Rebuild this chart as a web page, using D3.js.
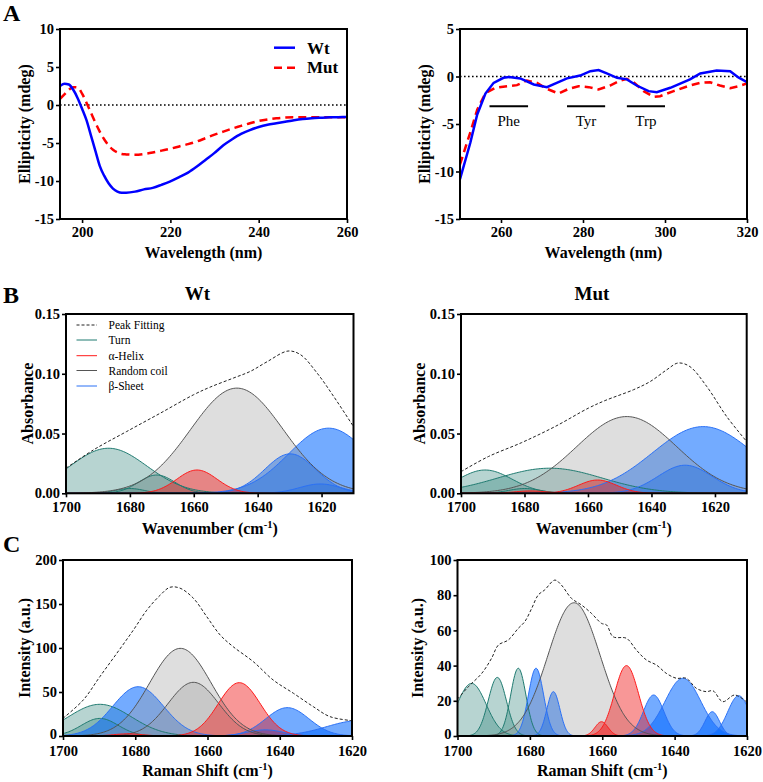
<!DOCTYPE html>
<html>
<head>
<meta charset="utf-8">
<script src="https://cdn.jsdelivr.net/npm/d3@7"></script>
<style>
  body { margin: 0; background: #fff; }
  svg { display: block; }
  text { font-family: "Liberation Serif", "Times New Roman", serif; }
</style>
</head>
<body>
<div id="chart"></div>
<script>
// ---------- data ----------

// A, far-UV CD (nm, mdeg)
var farWave = [195,196,197,198,199,200,201,202,203,204,205,206,207,208,209,210,212,214,216,218,220,222,224,226,228,230,232,234,236,238,240,242,244,246,248,250,252,254,256,258,260];
var farWt   = [2.5,2.8,2.7,2.0,0.9,-0.5,-2.0,-4.0,-6.0,-8.0,-9.3,-10.3,-11.0,-11.4,-11.55,-11.55,-11.4,-11.1,-10.9,-10.5,-10.05,-9.5,-8.9,-8.1,-7.2,-6.3,-5.3,-4.5,-3.8,-3.3,-2.9,-2.6,-2.4,-2.2,-2.0,-1.85,-1.75,-1.68,-1.62,-1.6,-1.58];
var farMut  = [0.8,1.4,2.0,2.35,2.3,1.5,0.3,-1.0,-2.3,-3.5,-4.5,-5.3,-5.9,-6.25,-6.45,-6.5,-6.55,-6.45,-6.25,-6.0,-5.75,-5.45,-5.15,-4.8,-4.35,-3.9,-3.5,-3.1,-2.75,-2.4,-2.1,-1.9,-1.75,-1.65,-1.6,-1.6,-1.6,-1.6,-1.6,-1.6,-1.6];

// A, near-UV CD
var nearWt = [[250,-10.8],[252.5,-7.0],[254.2,-4.0],[256.2,-1.8],[258.2,-0.67],[260.6,-0.14],[262,-0.05],[264.7,-0.2],[268,-0.84],[271.2,-1.12],[273.6,-0.67],[276.1,-0.2],[279.3,0.1],[281.8,0.56],[283.8,0.67],[285.8,0.32],[288.3,-0.14],[290.7,-0.3],[293.1,-0.95],[296,-1.54],[298,-1.65],[301.3,-1.19],[306.1,-0.3],[308.6,0.32],[312.6,0.63],[315.9,0.56],[317.9,-0.1],[320,-0.6]];
var nearMut = [[250,-9.26],[252.5,-5.9],[254.2,-3.5],[256.2,-1.75],[258.6,-1.19],[261.5,-1.02],[263.9,-0.91],[266.3,-0.42],[268.8,-0.67],[271.2,-1.3],[274,-1.79],[276.5,-1.3],[278.9,-1.02],[281.4,-1.12],[283.8,-1.37],[286.6,-0.95],[289.1,-0.42],[290.7,-0.25],[292.3,-0.6],[294.8,-1.54],[297.2,-2.14],[298.8,-2.07],[302.1,-1.54],[306.1,-0.95],[308.6,-0.67],[311,-0.6],[313.4,-0.95],[315.9,-1.23],[317.9,-1.02],[320,-0.74]];
var aromaticBands = [["Phe",257.2,266.6],["Tyr",276.1,285.4],["Trp",290.7,300]];
var aromaticLevel = -3.13;

// B, FTIR amide I fitted bands: [type, centre cm-1, height, sigma]
var ftirWtBands = [
  ["turn",1686.7,0.0377,12],["turn",1680,0.004,4.5],["turn",1671.6,0.0153,5.7],
  ["sheet",1629.8,0.033,8],["sheet",1620.4,0.0078,6.5],["sheet",1617.8,0.0545,12.5],
  ["coil",1646.5,0.088,14.5],
  ["helix",1659,0.0195,6.3]
];
var ftirWtFit = [[1700,0.021],[1691.4,0.0363],[1681,0.0517],[1670.5,0.067],[1660.1,0.0824],[1654.9,0.0888],[1647.6,0.0964],[1642.3,0.102],[1637.1,0.110],[1630.5,0.119],[1626.6,0.116],[1621.4,0.1006],[1616.2,0.081],[1610,0.0558]];
var ftirMutBands = [
  ["turn",1692.4,0.0195,8.5],["turn",1680,0.004,5],["turn",1672,0.021,16.5],
  ["sheet",1629.4,0.0235,8.5],["sheet",1623.7,0.0558,16],
  ["coil",1647.8,0.0642,15.8],
  ["helix",1678,0.002,5],["helix",1657,0.0111,6]
];
var ftirMutFit = [[1700,0.0181],[1691.4,0.0307],[1680.9,0.0424],[1670.4,0.0558],[1659.9,0.0712],[1654.6,0.0776],[1645.7,0.0866],[1640.4,0.0935],[1635.2,0.1033],[1631.6,0.109],[1627.9,0.106],[1622.6,0.0894],[1616.3,0.0642],[1610,0.0433]];

// C, Raman amide I fitted bands
var ramanWtBands = [
  ["turn",1689.8,36,8.7],["turn",1689.8,20,5.1],
  ["sheet",1679.2,56,7],["sheet",1644,7,5],["sheet",1637.9,32.2,6],["sheet",1618,17.5,9],
  ["coil",1667.5,99.6,8.5],["coil",1663.9,61,7],
  ["helix",1682,2.5,4],["helix",1651.2,60.6,5.8]
];
var ramanWtFit = [[1700,20.1],[1694.4,40.9],[1689.8,67.4],[1685.1,94],[1680.5,120.5],[1676.8,143],[1673.1,160],[1670.4,169],[1667.6,168],[1663.9,156.5],[1660.2,135.6],[1656.5,114.8],[1652.9,101.5],[1647.3,84.4],[1641.8,63.6],[1636.2,48.5],[1630.7,33.3],[1626.1,22],[1620,17.4]];
var ramanMutBands = [
  ["turn",1696.1,29.9,4],["turn",1689,33.3,2.5],["turn",1683.2,38.5,2.1],
  ["sheet",1678.3,38.5,2.1],["sheet",1673.5,25.2,1.8],["sheet",1645.8,23.3,2.8],["sheet",1637.7,32.8,4.9],["sheet",1629.6,13.8,2],["sheet",1622.3,22.9,3],
  ["coil",1667.8,75.7,7.2],
  ["helix",1660.2,8.1,1.8],["helix",1653.3,40,3.3]
];
var ramanMutFit = [[1700,21],[1697,28],[1693.3,35.6],[1690.6,44.1],[1688.7,51.7],[1686,54.5],[1683.2,61.2],[1681.4,65],[1679.5,72.5],[1677.7,80.1],[1675.9,83],[1673.1,88.6],[1671.3,85.8],[1668.5,78.2],[1665.7,74.4],[1663,69.7],[1660.2,64],[1658.8,63.1],[1657,56.4],[1653.3,55.5],[1650.6,48.9],[1647.8,43.2],[1645,40.3],[1642.3,35.6],[1639.5,32.8],[1636.8,32.8],[1634,27.1],[1631.3,25.2],[1629.4,25.7],[1626.7,19.5],[1623.4,23.3],[1620.2,19.5]];

var legendItems = [["fit","Peak Fitting"],["turn","Turn"],["helix","α-Helix"],["coil","Random coil"],["sheet","β-Sheet"]];

// ---------- styles ----------
var SERIF = "'Liberation Serif', 'Times New Roman', serif";
var bandStyle = {
  turn:  { stroke: "#1f7a70", fill: "#1f7a70", op: 0.32 },
  helix: { stroke: "#ff1a1a", fill: "#f01818", op: 0.45 },
  coil:  { stroke: "#555555", fill: "#9a9a9a", op: 0.33 },
  sheet: { stroke: "#2a70f5", fill: "#0066ff", op: 0.55 }
};

var svg = d3.select("#chart").append("svg").attr("width", 763).attr("height", 782)
  .attr("font-family", SERIF);
var clipCount = 0;

// xPad: gap under x ticks, zeroLift: nudge the y "0" label up where it meets the x labels
function panel(box, xDom, yDom, xTicks, yTicks, yFmt, xPad, zeroLift) {
  var x = d3.scaleLinear().domain(xDom).range([box.x0, box.x1]);
  var y = d3.scaleLinear().domain(yDom).range([box.y1, box.y0]);
  var id = "clip" + (clipCount++);
  svg.append("clipPath").attr("id", id).append("rect")
    .attr("x", box.x0).attr("y", box.y0).attr("width", box.x1 - box.x0).attr("height", box.y1 - box.y0);
  var plot = svg.append("g").attr("clip-path", "url(#" + id + ")");
  var ax = svg.append("g");
  var xa = ax.append("g").attr("transform", "translate(0," + box.y1 + ")")
    .call(d3.axisBottom(x).tickValues(xTicks).tickSize(4).tickSizeOuter(0).tickPadding(xPad || 4).tickFormat(function(d){ return String(d); }));
  var ya = ax.append("g").attr("transform", "translate(" + box.x0 + ",0)")
    .call(d3.axisLeft(y).tickValues(yTicks).tickSize(4).tickSizeOuter(0).tickPadding(2).tickFormat(yFmt || function(d){ return String(d); }));
  [xa, ya].forEach(function(a){
    a.attr("font-family", SERIF).attr("font-size", 14.5).attr("font-weight", "bold");
    a.select(".domain").remove();
    a.selectAll(".tick line").attr("stroke", "#000").attr("stroke-width", 1.6);
    a.selectAll(".tick text").attr("fill", "#000");
  });
  if (zeroLift) {
    ya.selectAll(".tick text").filter(function(d){ return d === 0; }).attr("y", -zeroLift);
  }
  ax.append("rect").attr("x", box.x0).attr("y", box.y0).attr("width", box.x1 - box.x0).attr("height", box.y1 - box.y0)
    .attr("fill", "none").attr("stroke", "#000").attr("stroke-width", 2);
  return { x: x, y: y, plot: plot, box: box };
}

function xTitle(p, parts, dy) {
  var t = svg.append("text").attr("x", (p.box.x0 + p.box.x1) / 2).attr("y", p.box.y1 + dy)
    .attr("text-anchor", "middle").attr("font-size", 16).attr("font-weight", "bold");
  t.append("tspan").text(parts[0]);
  if (parts.length > 1) {
    t.append("tspan").attr("dy", -6).attr("font-size", 10.5).text(parts[1]);
    t.append("tspan").attr("dy", 6).text(parts[2]);
  }
}
function yTitle(p, label, xb) {
  var cy = (p.box.y0 + p.box.y1) / 2;
  svg.append("text").attr("transform", "translate(" + xb + "," + cy + ") rotate(-90)")
    .attr("text-anchor", "middle").attr("font-size", 16).attr("font-weight", "bold").text(label);
}
function zeroLine(p) {
  p.plot.append("line").attr("x1", p.box.x0).attr("x2", p.box.x1).attr("y1", p.y(0)).attr("y2", p.y(0))
    .attr("stroke", "#000").attr("stroke-width", 1.6).attr("stroke-dasharray", "1.6,2.4");
}
function panelLetter(t, x, y) {
  svg.append("text").attr("x", x).attr("y", y).attr("font-size", 24).attr("font-weight", "bold").text(t);
}

function drawBands(p, bands, fit, step) {
  var dom = p.x.domain();
  var lo = Math.min(dom[0], dom[1]), hi = Math.max(dom[0], dom[1]);
  var grid = d3.range(lo, hi + step / 2, step);
  var curves = bands.map(function(b) {
    return grid.map(function(w){ return [w, b[2] * Math.exp(-Math.pow(w - b[1], 2) / (2 * b[3] * b[3]))]; });
  });
  var area = d3.area().x(function(d){ return p.x(d[0]); }).y0(p.y(0)).y1(function(d){ return p.y(d[1]); });
  var line = d3.line().x(function(d){ return p.x(d[0]); }).y(function(d){ return p.y(d[1]); });
  p.plot.selectAll(null).data(bands).enter().append("path")
    .attr("d", function(b, i){ return area(curves[i]); })
    .attr("fill", function(b){ return bandStyle[b[0]].fill; })
    .attr("fill-opacity", function(b){ return bandStyle[b[0]].op; });
  p.plot.selectAll(null).data(bands).enter().append("path")
    .attr("d", function(b, i){ return line(curves[i]); })
    .attr("fill", "none").attr("stroke-width", 1)
    .attr("stroke", function(b){ return bandStyle[b[0]].stroke; });
  p.plot.append("path").datum(fit)
    .attr("d", d3.line().x(function(d){ return p.x(d[0]); }).y(function(d){ return p.y(d[1]); }).curve(d3.curveCatmullRom))
    .attr("fill", "none").attr("stroke", "#222").attr("stroke-width", 1).attr("stroke-dasharray", "3,2");
}

// ---------- A left: far UV ----------
panelLetter("A", 3, 21);
var a1 = panel({x0: 60, x1: 347, y0: 29, y1: 219}, [195, 260], [-15, 10], [200, 220, 240, 260], [-15, -10, -5, 0, 5, 10]);
zeroLine(a1);
var farLine = d3.line().x(function(d){ return a1.x(d[0]); }).y(function(d){ return a1.y(d[1]); }).curve(d3.curveMonotoneX);
a1.plot.append("path").datum(d3.zip(farWave, farMut)).attr("d", farLine)
  .attr("fill", "none").attr("stroke", "#ff0000").attr("stroke-width", 2.5).attr("stroke-dasharray", "8,5");
a1.plot.append("path").datum(d3.zip(farWave, farWt)).attr("d", farLine)
  .attr("fill", "none").attr("stroke", "#0000ff").attr("stroke-width", 2.5);
svg.append("line").attr("x1", 274).attr("x2", 295).attr("y1", 47.7).attr("y2", 47.7).attr("stroke", "#0000ff").attr("stroke-width", 2.5);
svg.append("line").attr("x1", 274).attr("x2", 295).attr("y1", 67.7).attr("y2", 67.7).attr("stroke", "#ff0000").attr("stroke-width", 2.5).attr("stroke-dasharray", "8,5");
svg.append("text").attr("x", 307).attr("y", 53.5).attr("font-size", 17).attr("font-weight", "bold").text("Wt");
svg.append("text").attr("x", 307).attr("y", 73).attr("font-size", 17).attr("font-weight", "bold").text("Mut");
xTitle(a1, ["Wavelength (nm)"], 39);
yTitle(a1, "Ellipticity (mdeg)", 30);

// ---------- A right: near UV ----------
var a2 = panel({x0: 460, x1: 747, y0: 29, y1: 219}, [250, 320], [-15, 5], [260, 280, 300, 320], [-15, -10, -5, 0, 5]);
zeroLine(a2);
var nearLine = d3.line().x(function(d){ return a2.x(d[0]); }).y(function(d){ return a2.y(d[1]); });
a2.plot.append("path").datum(nearMut).attr("d", nearLine)
  .attr("fill", "none").attr("stroke", "#ff0000").attr("stroke-width", 2.5).attr("stroke-dasharray", "8,5");
a2.plot.append("path").datum(nearWt).attr("d", nearLine)
  .attr("fill", "none").attr("stroke", "#0000ff").attr("stroke-width", 2.5);
aromaticBands.forEach(function(b) {
  a2.plot.append("line").attr("x1", a2.x(b[1])).attr("x2", a2.x(b[2]))
    .attr("y1", a2.y(aromaticLevel)).attr("y2", a2.y(aromaticLevel)).attr("stroke", "#000").attr("stroke-width", 2);
  svg.append("text").attr("x", (a2.x(b[1]) + a2.x(b[2])) / 2).attr("y", a2.y(aromaticLevel) + 20)
    .attr("text-anchor", "middle").attr("font-size", 15).text(b[0]);
});
xTitle(a2, ["Wavelength (nm)"], 39);
yTitle(a2, "Ellipticity (mdeg)", 430);

// ---------- B: FTIR ----------
panelLetter("B", 3, 302.5);
var fmt2 = d3.format(".2f");
var b1 = panel({x0: 66, x1: 353.5, y0: 314, y1: 493.3}, [1700, 1610], [0, 0.15], [1700, 1680, 1660, 1640, 1620], [0, 0.05, 0.10, 0.15], fmt2);
drawBands(b1, ftirWtBands, ftirWtFit, 0.5);
var b2 = panel({x0: 461, x1: 746.7, y0: 314, y1: 493.3}, [1700, 1610], [0, 0.15], [1700, 1680, 1660, 1640, 1620], [0, 0.05, 0.10, 0.15], fmt2);
drawBands(b2, ftirMutBands, ftirMutFit, 0.5);
svg.append("text").attr("x", 197.5).attr("y", 299.5).attr("text-anchor", "middle").attr("font-size", 19).attr("font-weight", "bold").text("Wt");
svg.append("text").attr("x", 592).attr("y", 299.5).attr("text-anchor", "middle").attr("font-size", 19).attr("font-weight", "bold").text("Mut");
xTitle(b1, ["Wavenumber (cm", "-1", ")"], 41);
xTitle(b2, ["Wavenumber (cm", "-1", ")"], 41);
yTitle(b1, "Absorbance", 33);
yTitle(b2, "Absorbance", 425);

// legend
var lg = svg.append("g");
legendItems.forEach(function(it, i) {
  var yy = [325, 340, 355.7, 370.5, 386][i];
  var ln = lg.append("line").attr("x1", 76.5).attr("x2", 97).attr("y1", yy).attr("y2", yy).attr("stroke-width", 1);
  if (it[0] === "fit") ln.attr("stroke", "#222").attr("stroke-dasharray", "3,2");
  else ln.attr("stroke", bandStyle[it[0]].stroke);
  lg.append("text").attr("x", 108.5).attr("y", yy + 4).attr("font-size", 11.5).text(it[1]);
});

// ---------- C: Raman ----------
panelLetter("C", 3, 552);
var c1 = panel({x0: 63, x1: 352, y0: 560, y1: 736}, [1700, 1620], [0, 200], [1700, 1680, 1660, 1640, 1620], [0, 50, 100, 150, 200], null, 5.5, 2);
drawBands(c1, ramanWtBands, ramanWtFit, 0.4);
var c2 = panel({x0: 457.5, x1: 747, y0: 560, y1: 736}, [1700, 1620], [0, 100], [1700, 1680, 1660, 1640, 1620], [0, 20, 40, 60, 80, 100], null, 5.5, 2);
drawBands(c2, ramanMutBands, ramanMutFit, 0.2);
xTitle(c1, ["Raman Shift (cm", "-1", ")"], 40);
xTitle(c2, ["Raman Shift (cm", "-1", ")"], 40);
yTitle(c1, "Intensity (a.u.)", 30);
yTitle(c2, "Intensity (a.u.)", 423);
</script>
</body>
</html>
